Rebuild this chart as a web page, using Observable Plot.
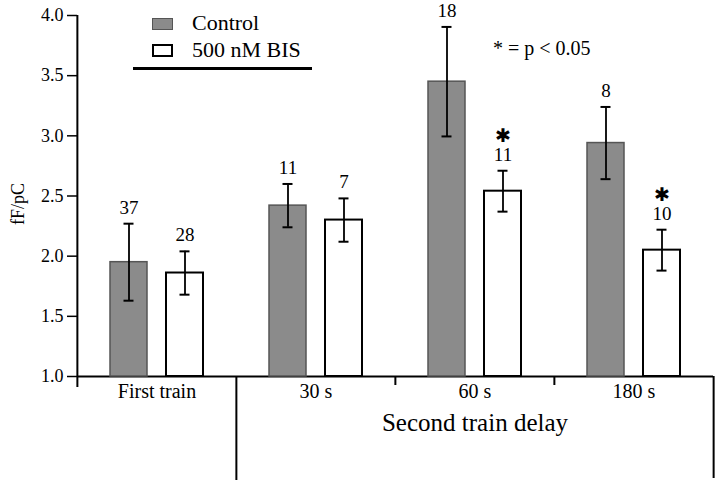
<!DOCTYPE html>
<html>
<head>
<meta charset="utf-8">
<script src="https://cdn.jsdelivr.net/npm/d3@7"></script>
<script src="https://cdn.jsdelivr.net/npm/@observablehq/plot@0.6"></script>
<style>
  html, body { margin: 0; padding: 0; background: #fff; }
  #wrap { position: relative; width: 720px; height: 484px; font-family: "Liberation Serif", serif; color: #000; }
  #wrap svg { position: absolute; left: 0; top: 0; }
  .lg { position: absolute; white-space: nowrap; }
  .sw { position: absolute; box-sizing: border-box; }
</style>
</head>
<body>
<div id="wrap"></div>
<script>
// ---- data ----
const categories = ["First train", "30 s", "60 s", "180 s"];
const series = ["Control", "500 nM BIS"];
const controlMean = [1.95, 2.42, 3.45, 2.94];
const controlSem  = [0.32, 0.18, 0.455, 0.30];
const controlN    = [37, 11, 18, 8];
const bisMean     = [1.86, 2.30, 2.54, 2.05];
const bisSem      = [0.18, 0.18, 0.17, 0.17];
const bisN        = [28, 7, 11, 10];
const bisSignificant = [false, false, true, true];
const yTicks = [1.0, 1.5, 2.0, 2.5, 3.0, 3.5, 4.0];
const yLabel = ["fF/pC"];
const groupLabel = ["Second train delay"];
const groupMembers = ["30 s", "60 s", "180 s"];
const sigMark = "\u2731";
const sigNote = "* = p < 0.05";

// ---- table built from the arrays ----
const rows = [];
categories.forEach((c, i) => {
  rows.push({cat: c, series: series[0], mean: controlMean[i], sem: controlSem[i], n: controlN[i], sig: false});
  rows.push({cat: c, series: series[1], mean: bisMean[i], sem: bisSem[i], n: bisN[i], sig: bisSignificant[i]});
});
const lo = d => d.mean - d.sem;
const hi = d => d.mean + d.sem;

const W = 720, H = 484;
const M = {top: 15, right: 7, bottom: 108, left: 76};
const step = (W - M.left - M.right) / categories.length;
const base = yTicks[0];
const font = "Liberation Serif";

const ctrl = rows.filter(d => d.series === series[0]);
const bis = rows.filter(d => d.series === series[1]);
const groupStart = groupMembers[0];
const groupEnd = groupMembers[groupMembers.length - 1];
const centerMember = groupMembers[Math.floor(groupMembers.length / 2)];

const chart = Plot.plot({
  width: W, height: H,
  marginTop: M.top, marginRight: M.right, marginBottom: M.bottom, marginLeft: M.left,
  style: {fontFamily: font, fontSize: "18px", color: "#000", background: "transparent"},
  fx: {domain: categories, padding: 0},
  x: {domain: series, paddingInner: 0.34, paddingOuter: 0.57, axis: null},
  y: {domain: [yTicks[0], yTicks[yTicks.length - 1]]},
  marks: [
    // axes
    Plot.axisY({ticks: yTicks, tickFormat: d3.format(".1f"), tickSize: 10, tickPadding: 4,
      fontSize: 18, strokeWidth: 1.5, label: null}),
    Plot.text(yLabel, {fx: () => categories[0], frameAnchor: "left", textAnchor: "middle", rotate: -90,
      dx: -59, dy: 8, fontSize: 18, text: d => d}),
    Plot.axisFx({anchor: "bottom", tickSize: 0, tickPadding: 7, fontSize: 20, label: null}),
    Plot.ruleY([base], {stroke: "#000", strokeWidth: 2}),
    // y axis line (left edge of first facet)
    Plot.ruleX([categories[0]], {fx: Plot.identity, x: null, y1: yTicks[yTicks.length - 1], y2: base,
      insetBottom: -11, dx: -step / 2, stroke: "#000", strokeWidth: 2}),
    // group bracket
    Plot.ruleX([groupStart], {fx: Plot.identity, x: null, y1: base, y2: base, insetBottom: -104,
      dx: -step / 2, stroke: "#000", strokeWidth: 2}),
    Plot.ruleX([groupEnd], {fx: Plot.identity, x: null, y1: base, y2: base, insetBottom: -102,
      dx: step / 2, stroke: "#000", strokeWidth: 2}),
    Plot.ruleX(groupMembers.slice(1), {fx: Plot.identity, x: null, y1: base, y2: base, insetBottom: -9,
      dx: -step / 2, stroke: "#000", strokeWidth: 2}),
    Plot.text(groupLabel, {fx: () => centerMember, frameAnchor: "bottom", dy: 54, fontSize: 25, text: d => d}),
    // bars
    Plot.barY(ctrl, {fx: "cat", x: "series", y1: base, y2: "mean", fill: "#8b8b8b", stroke: "#555", strokeWidth: 1.5}),
    Plot.barY(bis, {fx: "cat", x: "series", y1: base, y2: "mean", fill: "#fff", stroke: "#000", strokeWidth: 2}),
    // error bars
    Plot.ruleX(rows, {fx: "cat", x: "series", y1: lo, y2: hi, stroke: "#000", strokeWidth: 1.8}),
    Plot.tickY(rows, {fx: "cat", x: "series", y: lo, insetLeft: 13.5, insetRight: 13.5, stroke: "#000", strokeWidth: 2}),
    Plot.tickY(rows, {fx: "cat", x: "series", y: hi, insetLeft: 13.5, insetRight: 13.5, stroke: "#000", strokeWidth: 2}),
    // n labels, with the significance mark on the line above
    Plot.text(rows, {fx: "cat", x: "series", y: hi,
      text: d => d.sig ? sigMark + "\n" + d.n : String(d.n),
      lineAnchor: "bottom", lineHeight: 1.0, dy: -10, fontSize: 19})
  ]
});

const wrap = document.getElementById("wrap");
wrap.appendChild(chart);

// legend and annotation overlay
function add(txt, style, cls) {
  const el = document.createElement("div");
  el.className = cls;
  Object.assign(el.style, style);
  el.textContent = txt;
  wrap.appendChild(el);
}
add("", {left: "152px", top: "18px", width: "21px", height: "12px", background: "#8b8b8b", border: "1.5px solid #555"}, "sw");
add("", {left: "152px", top: "44px", width: "21px", height: "13px", background: "#fff", border: "2px solid #000"}, "sw");
add(series[0], {left: "192px", top: "11.5px", fontSize: "22px", lineHeight: "22px"}, "lg");
add(series[1], {left: "192px", top: "38.5px", fontSize: "22px", lineHeight: "22px"}, "lg");
add("", {left: "133px", top: "67px", width: "179px", height: "2.5px", background: "#000"}, "sw");
add(sigNote, {left: "493px", top: "38px", fontSize: "20px", lineHeight: "20px"}, "lg");
</script>
</body>
</html>
